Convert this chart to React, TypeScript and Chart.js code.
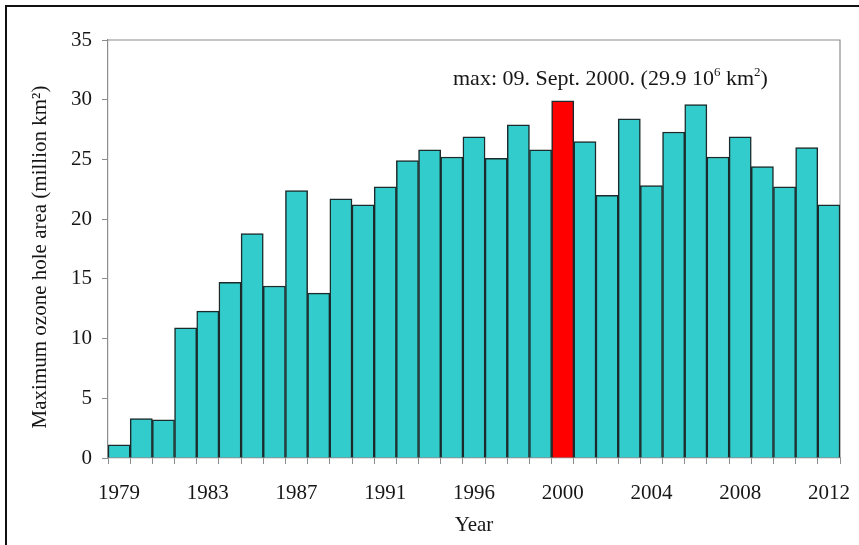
import React, { useEffect, useRef } from "react";
import { Chart, registerables } from "chart.js";

Chart.register(...registerables);

const years = [
  "1979", "1980", "1981", "1982", "1983", "1984", "1985", "1986", "1987", "1988",
  "1989", "1990", "1991", "1992", "1993", "1994", "1996", "1997", "1998", "1999",
  "2000", "2001", "2002", "2003", "2004", "2005", "2006", "2007", "2008", "2009",
  "2010", "2011", "2012",
];

const maxArea = [
  1.1, 3.3, 3.2, 10.9, 12.3, 14.7, 18.8, 14.4, 22.4, 13.8,
  21.7, 21.2, 22.7, 24.9, 25.8, 25.2, 26.9, 25.1, 27.9, 25.8,
  29.9, 26.5, 22.0, 28.4, 22.8, 27.3, 29.6, 25.2, 26.9, 24.4,
  22.7, 26.0, 21.2,
];

const shownTicks = ["1979", "1983", "1987", "1991", "1996", "2000", "2004", "2008", "2012"];

const maxYear = "2000";
const maxDate = "09. Sept.";
const yTitle = "Maximum ozone hole area (million km²)";

const FONT = '"Liberation Serif", "Times New Roman", serif';
const TEAL = "#33cccc";
const RED = "#ff0000";
const GRAY = "#8c8c8c";
const TEXT = "#161616";

const framePlugin = {
  id: "frame",
  beforeDatasetsDraw(chart: any) {
    const { ctx, chartArea } = chart;
    ctx.save();
    ctx.strokeStyle = GRAY;
    ctx.lineWidth = 1.2;
    ctx.beginPath();
    ctx.moveTo(chartArea.left, chartArea.top);
    ctx.lineTo(chartArea.right, chartArea.top);
    ctx.lineTo(chartArea.right, chartArea.bottom);
    ctx.stroke();
    ctx.restore();
  },
};

const textPlugin = {
  id: "texts",
  afterDatasetsDraw(chart: any) {
    const { ctx, chartArea } = chart;
    const idx = years.indexOf(maxYear);
    const val = maxArea[idx];
    const parts: [string, boolean][] = [
      [`max: ${maxDate} ${maxYear}. (${val.toFixed(1)} 10`, false],
      ["6", true],
      [" km", false],
      ["2", true],
      [")", false],
    ];
    ctx.save();
    ctx.fillStyle = TEXT;
    ctx.textBaseline = "alphabetic";
    ctx.textAlign = "left";
    let x = chartArea.left + 345;
    const y = chartArea.top + 45;
    for (const [t, sup] of parts) {
      ctx.font = sup ? `13px ${FONT}` : `22px ${FONT}`;
      ctx.fillText(t, x, sup ? y - 9 : y);
      x += ctx.measureText(t).width;
    }
    ctx.restore();

    // y-axis title
    ctx.save();
    ctx.fillStyle = TEXT;
    ctx.font = `21px ${FONT}`;
    ctx.textAlign = "center";
    ctx.textBaseline = "middle";
    ctx.translate(40, (chartArea.top + chartArea.bottom) / 2 + 8);
    ctx.rotate(-Math.PI / 2);
    ctx.fillText(yTitle, 0, 0);
    ctx.restore();
  },
};

export default function App() {
  const ref = useRef<HTMLCanvasElement | null>(null);

  useEffect(() => {
    if (!ref.current) return;
    const chart = new Chart(ref.current, {
      type: "bar",
      data: {
        labels: years,
        datasets: [
          {
            data: maxArea,
            backgroundColor: years.map((y) => (y === maxYear ? RED : TEAL)),
            borderColor: "#1b2a2a",
            borderWidth: 1.5,
            categoryPercentage: 1,
            barPercentage: 1,
          },
        ],
      },
      options: {
        animation: false,
        responsive: false,
        maintainAspectRatio: false,
        layout: { padding: { left: 27, right: 19, top: 40, bottom: 7 } },
        plugins: {
          legend: { display: false },
          tooltip: { enabled: false },
        },
        scales: {
          x: {
            grid: {
              display: true,
              drawOnChartArea: false,
              drawTicks: true,
              tickLength: 6,
              color: GRAY,
              offset: true,
            },
            border: { display: true, color: GRAY, width: 1.2 },
            ticks: {
              autoSkip: false,
              maxRotation: 0,
              minRotation: 0,
              padding: 17,
              color: TEXT,
              font: { family: FONT, size: 21 },
              callback: (_v: any, i: number) => (shownTicks.includes(years[i]) ? years[i] : ""),
            },
            title: {
              display: true,
              text: "Year",
              color: TEXT,
              font: { family: FONT, size: 21 },
              padding: 0,
            },
            afterFit: (scale: any) => {
              scale.height = 80;
              scale.paddingLeft = 0;
              scale.paddingRight = 0;
            },
          },
          y: {
            min: 0,
            max: 35,
            ticks: {
              stepSize: 5,
              padding: 10,
              color: TEXT,
              font: { family: FONT, size: 21 },
            },
            grid: {
              display: true,
              drawOnChartArea: false,
              drawTicks: true,
              tickLength: 6,
              color: GRAY,
            },
            border: { display: true, color: GRAY, width: 1.2 },
            title: { display: false },
            afterFit: (scale: any) => {
              scale.width = 108 - 27;
            },
          },
        },
      },
      plugins: [framePlugin, textPlugin],
    });
    return () => chart.destroy();
  }, []);

  return (
    <div style={{ position: "absolute", left: 0, top: 0, width: 859, height: 545, background: "#fff" }}>
      <div
        style={{
          position: "absolute",
          left: 5,
          top: 5,
          right: 0,
          bottom: 0,
          borderLeft: "2px solid #111",
          borderTop: "2px solid #111",
          pointerEvents: "none",
        }}
      />
      <canvas ref={ref} width={859} height={545} style={{ position: "absolute", left: 0, top: 0 }} />
    </div>
  );
}
